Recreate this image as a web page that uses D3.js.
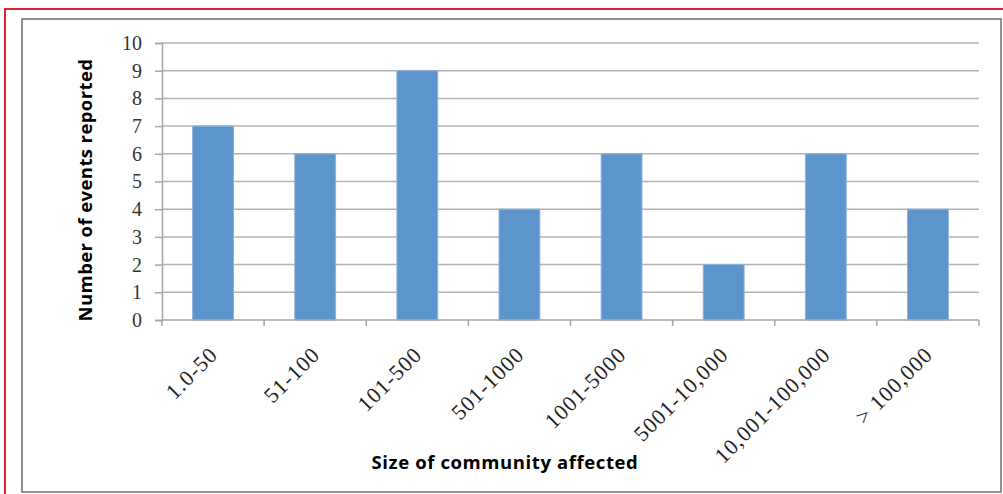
<!DOCTYPE html>
<html>
<head>
<meta charset="utf-8">
<script src="https://cdn.jsdelivr.net/npm/d3@7"></script>
<style>
  body { margin: 0; background: #fff; }
  svg { display: block; }
</style>
</head>
<body>
<div id="chart"></div>
<script>
// data
const categories = ["1.0-50", "51-100", "101-500", "501-1000", "1001-5000", "5001-10,000", "10,001-100,000", "> 100,000"];
const events = [7, 6, 9, 4, 6, 2, 6, 4];
const yTicks = [0, 1, 2, 3, 4, 5, 6, 7, 8, 9, 10];

const W = 1003, H = 494;
const margin = { top: 43, right: 24, bottom: 174, left: 162 };
const width = W - margin.left - margin.right,
      height = H - margin.top - margin.bottom;

const svg = d3.select("#chart")
  .append("svg")
  .attr("width", W)
  .attr("height", H);

// outer red frame + grey chart box
svg.append("line")
  .attr("x1", 4).attr("x2", W).attr("y1", 9).attr("y2", 9)
  .attr("stroke", "#d9262e").attr("stroke-width", 2);
svg.append("line")
  .attr("x1", 5).attr("x2", 5).attr("y1", 8).attr("y2", H)
  .attr("stroke", "#d9262e").attr("stroke-width", 2);
svg.append("rect")
  .attr("x", 22).attr("y", 19).attr("width", 979).attr("height", 473)
  .attr("fill", "#fff").attr("stroke", "#6e6e6e").attr("stroke-width", 1.5);

const g = svg.append("g")
  .attr("transform", `translate(${margin.left},${margin.top})`);

const x = d3.scaleBand()
  .domain(categories)
  .range([0, width])
  .paddingInner(0.6)
  .paddingOuter(0.3);

const y = d3.scaleLinear().domain([0, 10]).range([height, 0]);

// gridlines
g.append("g")
  .selectAll("line")
  .data(yTicks.filter(d => d > 0))
  .enter()
  .append("line")
  .attr("x1", 0).attr("x2", width)
  .attr("y1", d => y(d)).attr("y2", d => y(d))
  .attr("stroke", "#b3b3b3").attr("stroke-width", 1.5);

// bars
g.append("g")
  .selectAll("rect")
  .data(events)
  .enter()
  .append("rect")
  .attr("x", (d, i) => x(categories[i]))
  .attr("y", d => y(d))
  .attr("width", x.bandwidth())
  .attr("height", d => height - y(d))
  .attr("fill", "#5b95cb")
  .attr("stroke", "#8db4dc")
  .attr("stroke-width", 1);

// y axis
const yAxis = g.append("g")
  .call(d3.axisLeft(y).tickValues(yTicks).tickSize(7).tickPadding(13));
yAxis.select(".domain").attr("stroke", "#a6a6a6").attr("stroke-width", 1.5);
yAxis.selectAll(".tick line").attr("stroke", "#a6a6a6").attr("stroke-width", 1.5);
yAxis.selectAll("text")
  .attr("font-family", "'Liberation Serif', 'Times New Roman', serif")
  .attr("font-size", 20)
  .attr("fill", "#333");

// x axis: ticks sit between categories
const step = x.step();
const xAxis = g.append("g").attr("transform", `translate(0,${height})`);
xAxis.append("line")
  .attr("x1", 0).attr("x2", width)
  .attr("stroke", "#a6a6a6").attr("stroke-width", 1.5);
xAxis.selectAll(".sep")
  .data(d3.range(categories.length + 1))
  .enter()
  .append("line")
  .attr("class", "sep")
  .attr("x1", i => i * step).attr("x2", i => i * step)
  .attr("y1", 0).attr("y2", 6)
  .attr("stroke", "#a6a6a6").attr("stroke-width", 1.5);

xAxis.selectAll(".lbl")
  .data(categories)
  .enter()
  .append("text")
  .attr("class", "lbl")
  .attr("text-anchor", "end")
  .attr("font-family", "'Liberation Serif', 'Times New Roman', serif")
  .attr("font-size", 22)
  .attr("letter-spacing", 1)
  .attr("fill", "#222")
  .attr("transform", d => `translate(${x(d) + x.bandwidth() / 2 + 6},${36}) rotate(-45)`)
  .text(d => d);

// axis titles
svg.append("text")
  .attr("transform", "translate(92,190) rotate(-90)")
  .attr("text-anchor", "middle")
  .attr("font-family", "'Open Sans', 'Noto Sans', sans-serif")
  .attr("font-weight", "bold")
  .attr("font-size", 18.5)
  .attr("letter-spacing", 0.4)
  .attr("fill", "#000")
  .text("Number of events reported");

svg.append("text")
  .attr("x", 505)
  .attr("y", 469)
  .attr("text-anchor", "middle")
  .attr("font-family", "'Open Sans', 'Noto Sans', sans-serif")
  .attr("font-weight", "bold")
  .attr("font-size", 18.5)
  .attr("letter-spacing", 0.6)
  .attr("fill", "#000")
  .text("Size of community affected");
</script>
</body>
</html>
